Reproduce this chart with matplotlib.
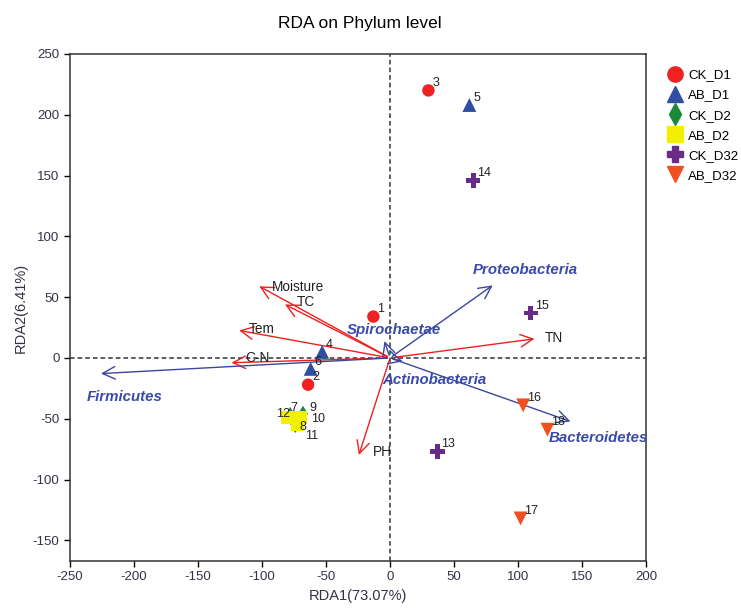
import matplotlib.pyplot as plt
from matplotlib.lines import Line2D

plt.rcParams['font.family'] = ['Liberation Sans', 'DejaVu Sans']
plt.rcParams['axes.unicode_minus'] = False

# sample scores
sample_ids = ['1', '2', '3', '4', '5', '6', '7', '8', '9', '10', '11', '12',
              '13', '14', '15', '16', '17', '18']
rda1 = [-13, -64, 30, -53, 62, -62, -78, -74, -68, -70, -72, -80,
        37, 65, 110, 104, 102, 123]
rda2 = [34, -22, 220, 5, 208, -9, -47, -55, -46, -49, -55, -49,
        -77, 146, 37, -39, -132, -59]
groups = ['CK_D1', 'CK_D1', 'CK_D1', 'AB_D1', 'AB_D1', 'AB_D1',
          'CK_D2', 'CK_D2', 'CK_D2', 'AB_D2', 'AB_D2', 'AB_D2',
          'CK_D32', 'CK_D32', 'CK_D32', 'AB_D32', 'AB_D32', 'AB_D32']

# environment factors
env_names = ['Moisture', 'TC', 'Tem', 'C-N', 'TN', 'PH']
env_x = [-104, -84, -120, -126, 115, -25]
env_y = [60, 45, 23, -4, 16, -82]

# phyla
phy_names = ['Proteobacteria', 'Spirochaetae', 'Actinobacteria', 'Firmicutes', 'Bacteroidetes']
phy_x = [82, -5, 12, -228, 143]
phy_y = [61, 16, -3.5, -13, -53]

group_order = ['CK_D1', 'AB_D1', 'CK_D2', 'AB_D2', 'CK_D32', 'AB_D32']
styles = {
    'CK_D1': ('o', '#ee2222', 80),
    'AB_D1': ('^', '#2e4fa3', 100),
    'CK_D2': ('d', '#1a8a3a', 70),
    'AB_D2': ('s', '#f2f000', 90),
    'CK_D32': ('P', '#6a2a88', 110),
    'AB_D32': ('v', '#f05020', 100),
}

fig = plt.figure(figsize=(7.41, 6.08), dpi=100)
ax = fig.add_axes([0.0945, 0.0773, 0.7773, 0.834])

ax.axhline(0, color='#333333', ls=(0, (3, 2)), lw=1.1, zorder=1)
ax.axvline(0, color='#333333', ls=(0, (3, 2)), lw=1.1, zorder=1)

for name, x, y in zip(env_names, env_x, env_y):
    ax.annotate('', xy=(x, y), xytext=(0, 0),
                arrowprops=dict(arrowstyle='->,head_length=0.9,head_width=0.45',
                                color='#ee2020', lw=1.0), zorder=2)

# env labels
env_lab = {'Moisture': (-92, 58), 'TC': (-73, 46), 'Tem': (-110, 24),
           'C-N': (-113, 0), 'TN': (121, 16), 'PH': (-13, -77)}
for name in env_names:
    lx, ly = env_lab[name]
    ax.text(lx, ly, name, fontsize=9.8, color='#222222', ha='left', va='center', zorder=4)

for name, x, y in zip(phy_names, phy_x, phy_y):
    ax.annotate('', xy=(x, y), xytext=(0, 0),
                arrowprops=dict(arrowstyle='->,head_length=0.9,head_width=0.45',
                                color='#3a46a0', lw=1.0), zorder=2)

phy_lab = {'Proteobacteria': (65, 72), 'Spirochaetae': (-34, 23),
           'Actinobacteria': (-6, -18), 'Firmicutes': (-237, -32),
           'Bacteroidetes': (124, -66)}
for name in phy_names:
    lx, ly = phy_lab[name]
    ax.text(lx, ly, name, fontsize=10.8, color='#3a4aa8', fontweight='bold',
            style='italic', ha='left', va='center', zorder=4)

for g in group_order:
    m, c, s = styles[g]
    xs = [x for x, gg in zip(rda1, groups) if gg == g]
    ys = [y for y, gg in zip(rda2, groups) if gg == g]
    ax.scatter(xs, ys, marker=m, color=c, s=s, edgecolors='none', zorder=3)

lab_off = {'7': (0, 6), '9': (5, 5), '12': (-9, 3), '8': (3, -2), '10': (8, -1), '11': (6, -9)}
for sid, x, y in zip(sample_ids, rda1, rda2):
    dx, dy = lab_off.get(sid, (3, 6))
    ax.text(x + dx, y + dy, sid, fontsize=9, color='#222222', ha='left', va='center', zorder=5)

ax.set_xlim(-250, 200)
ax.set_ylim(-167, 250)
ax.set_xticks(range(-250, 201, 50))
ax.set_yticks(range(-150, 251, 50))
ax.tick_params(labelsize=9.5, labelcolor='#333344', length=4, width=1)
for sp in ax.spines.values():
    sp.set_linewidth(1.1)
    sp.set_color('#333333')

ax.set_xlabel('RDA1(73.07%)', fontsize=10.5, color='#333344')
ax.set_ylabel('RDA2(6.41%)', fontsize=10.5, color='#333344')
fig.text(0.486, 0.962, 'RDA on Phylum level', fontsize=12.5, ha='center', va='center')

handles = [Line2D([], [], marker=styles[g][0], color=styles[g][1], ls='none',
                  markersize=11) for g in group_order]
fig.legend(handles, group_order, loc='upper left', bbox_to_anchor=(0.893, 0.895),
           frameon=False, fontsize=9.5, handletextpad=0.4, labelspacing=0.6,
           borderaxespad=0, handlelength=1.2)

fig.savefig('out.png', dpi=100)
